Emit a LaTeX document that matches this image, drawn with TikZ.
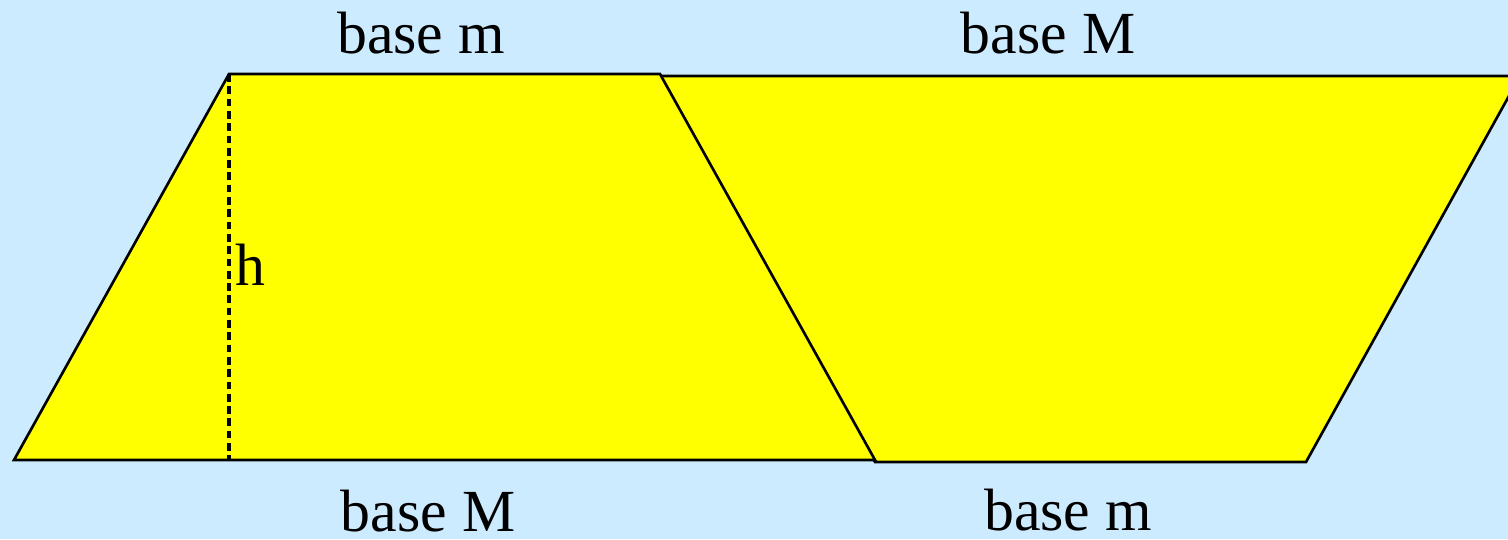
\documentclass[tikz,border=0pt]{standalone}
\usepackage{fontspec}
\setmainfont{Liberation Serif}
\usetikzlibrary{positioning}

\definecolor{skyback}{RGB}{204,235,255}
\definecolor{trapyellow}{RGB}{255,255,0}

\begin{document}
\begin{tikzpicture}[
  trap/.style={draw=black, fill=trapyellow, line width=0.75pt, line join=miter},
  hgt/.style={draw=black, line width=1pt, dash pattern=on 2.2pt off 1.3pt},
  lbl/.style={font=\fontsize{17}{19}\selectfont, inner sep=0pt,
              text depth=0pt, anchor=base}
]

%% ── background ──────────────────────────────────────────────────────────
\fill[skyback] (0,0) rectangle (15.08,5.39);
\useasboundingbox (0,0) rectangle (15.08,5.39);
\clip (0,0) rectangle (15.08,5.39);

%% ── corners ─────────────────────────────────────────────────────────────
% left trapezoid
\coordinate (lbl-a) at (0.14, 0.79);
\coordinate (ltl)   at (2.29, 4.65);
\coordinate (ltr)   at (6.60, 4.65);
\coordinate (lbr)   at (8.75, 0.79);
\coordinate (hfoot) at (2.29, 0.79);
% right trapezoid (turned copy)
\coordinate (rtl)   at (6.60, 4.63);
\coordinate (rtr)   at (15.20, 4.63);
\coordinate (rbr)   at (13.06, 0.77);
\coordinate (rbl)   at (8.75, 0.77);

%% ── shapes ──────────────────────────────────────────────────────────────
\draw[trap] (rtl) -- (rtr) -- (rbr) -- (rbl) -- cycle;
\draw[trap] (lbl-a) -- (ltl) -- (ltr) -- (lbr) -- cycle;
\draw[hgt]  (ltl) -- (hfoot);

%% ── labels ──────────────────────────────────────────────────────────────
\node[lbl] (topm)  at (4.21, 4.86)  {base m};
\node[lbl] (topM)  at (10.48, 4.86) {base M};
\node[lbl] (botM)  at (4.28, 0.08)  {base M};
\node[lbl] (botm)  at (10.68, 0.09) {base m};
\node[lbl, anchor=base west] (hlab) at (2.35, 2.54) {h};

\end{tikzpicture}
\end{document}
